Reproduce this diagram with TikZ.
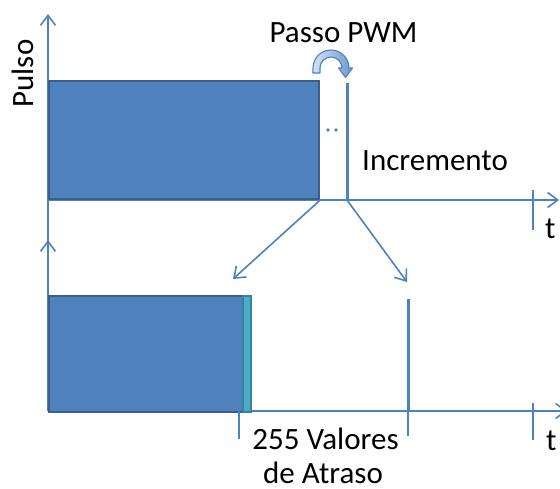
\documentclass[tikz,border=0pt]{standalone}
\usepackage{fontspec}
\setmainfont{Carlito}
\usetikzlibrary{arrows.meta}
\definecolor{axisblue}{HTML}{4F81BD}
\definecolor{boxfill}{HTML}{4F81BD}
\definecolor{boxedge}{HTML}{3A5F8E}
\definecolor{stripfill}{HTML}{4BACC6}
\definecolor{stripedge}{HTML}{31859C}
\definecolor{curvelight}{HTML}{D3E1F3}
\definecolor{curvedark}{HTML}{6F97CF}
\begin{document}
\begin{tikzpicture}[x=1pt,y=-1pt,
  axisline/.style={draw=axisblue,line width=1.6pt},
  barb/.style={axisline,-{Straight Barb[length=10pt,width=15pt,line width=1.6pt]}},
  tickline/.style={draw=axisblue,line width=1.3pt},
  pulseline/.style={draw=axisblue,line width=3pt},
  pulsebox/.style={draw=boxedge,fill=boxfill,line width=2.2pt,inner sep=0pt,anchor=south west},
  stripbox/.style={draw=stripedge,fill=stripfill,line width=1.6pt,inner sep=0pt,anchor=south west},
  lbl/.style={font=\fontsize{31pt}{37pt}\selectfont,inner sep=0pt,text=black}]
\path[use as bounding box] (0,0) rectangle (560,488);
\clip (0,0) rectangle (560,488);

% upper diagram: axes
\coordinate (o1) at (48,241);
\coordinate (y1) at (48,14);
\coordinate (x1s) at (48,200);
\coordinate (x1) at (559,200);
\draw[barb] (o1) -- (y1);
\draw[barb] (x1s) -- (x1);
\coordinate (tk1a) at (533,190);
\coordinate (tk1b) at (533,230);
\draw[tickline] (tk1a) -- (tk1b);

% upper diagram: wide pulse and narrow pulse
\node[pulsebox,minimum width=270pt,minimum height=118pt] (p1) at (48,200) {};
\coordinate (n1top) at (347,83);
\coordinate (n1bot) at (347,200);
\draw[pulseline] (n1top) -- (n1bot);
\fill[axisblue] (328,130) circle[radius=1.9pt] (336,130) circle[radius=1.9pt];

% curved step arrow
\path[left color=curvelight,right color=curvedark,draw=axisblue,line width=1.1pt,line join=round]
  (313,73) -- (313,68) arc[start angle=180,end angle=0,radius=18pt]
  -- (352.5,68) -- (345.5,77.5) -- (338.5,68) -- (342,68)
  arc[start angle=0,end angle=180,radius=11pt] -- (320,73) -- cycle;

% lower diagram: axes
\coordinate (o2) at (48,411);
\coordinate (y2) at (48,240);
\coordinate (x2s) at (250,411);
\coordinate (x2) at (567,411);
\draw[barb] (o2) -- (y2);
\draw[barb] (x2s) -- (x2);
\coordinate (tk2a) at (533,403);
\coordinate (tk2b) at (533,440);
\draw[tickline] (tk2a) -- (tk2b);

% lower diagram: delayed pulses
\node[pulsebox,minimum width=194pt,minimum height=116pt] (p2) at (48,413) {};
\node[stripbox,minimum width=8pt,minimum height=116pt] (s2) at (242,413) {};
\coordinate (tk3a) at (239,411);
\coordinate (tk3b) at (239,439);
\draw[tickline] (tk3a) -- (tk3b);
\coordinate (n2top) at (408,299);
\coordinate (n2bot) at (408,411);
\coordinate (n2tick) at (408,436);
\draw[pulseline] (n2top) -- (n2bot);
\draw[tickline] (n2bot) -- (n2tick);

% mapping arrows
\coordinate (m1) at (233,279);
\coordinate (m2) at (407,282);
\draw[barb] (p1.south east) -- (m1);
\draw[barb] (n1bot) -- (m2);

% labels
\node[lbl,rotate=90,anchor=base] (pulso) at (33,73.5) {Pulso};
\node[lbl,anchor=base] (passo) at (343.5,42) {Passo PWM};
\node[lbl,anchor=base west] (incr) at (362,170) {Incremento};
\node[lbl,anchor=base west] (t1) at (545,238) {t};
\node[lbl,anchor=base west] (t2) at (546,450) {t};
\node[lbl,anchor=base] (val) at (325.5,449) {255 Valores};
\node[lbl,anchor=base] (atr) at (323,483) {de Atraso};
\end{tikzpicture}
\end{document}
